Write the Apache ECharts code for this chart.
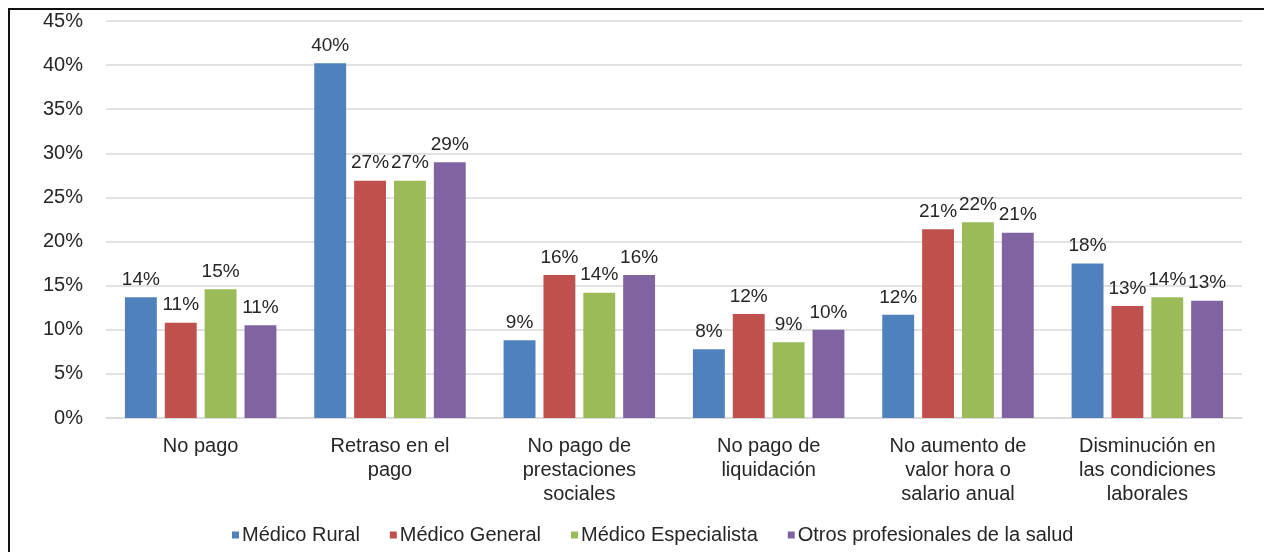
<!DOCTYPE html>
<html>
<head>
<meta charset="utf-8">
<script src="https://cdn.jsdelivr.net/npm/echarts@6/dist/echarts.min.js"></script>
<style>
  html, body { margin: 0; padding: 0; background: #ffffff; }
  #frame {
    position: absolute; left: 8px; top: 8px; width: 1256px; height: 544px;
    box-sizing: border-box; border-top: 2px solid #111; border-left: 2px solid #111;
  }
  #chart { position: absolute; left: 0; top: 0; width: 1264px; height: 552px; }
</style>
</head>
<body>
<div id="frame"></div>
<div id="chart"></div>
<script>
// Motivos de inconformidad salarial, por tipo de profesional (%)
const categories = [
  'No pago',
  'Retraso en el\npago',
  'No pago de\nprestaciones\nsociales',
  'No pago de\nliquidación',
  'No aumento de\nvalor hora o\nsalario anual',
  'Disminución en\nlas condiciones\nlaborales'
];
const seriesNames = ['Médico Rural', 'Médico General', 'Médico Especialista', 'Otros profesionales de la salud'];
const medicoRural        = [13.7, 40.2, 8.8, 7.8, 11.7, 17.5];
const medicoGeneral      = [10.8, 26.9, 16.2, 11.8, 21.4, 12.7];
const medicoEspecialista = [14.6, 26.9, 14.2, 8.6, 22.2, 13.7];
const otrosProfesionales = [10.5, 29.0, 16.2, 10.0, 21.0, 13.3];
const colors = ['#4F81BD', '#C0504D', '#9BBB59', '#8064A2'];
const yTicks = { min: 0, max: 45, interval: 5 };

const chart = echarts.init(document.getElementById('chart'), null, { renderer: 'canvas' });
const font = 'Liberation Sans, Arial, sans-serif';
const textColor = '#262626';
const values = [medicoRural, medicoGeneral, medicoEspecialista, otrosProfesionales];

chart.setOption({
  animation: false,
  backgroundColor: 'transparent',
  grid: { left: 106, right: 22, top: 21, bottom: 134, containLabel: false },
  legend: {
    data: seriesNames,
    top: 520,
    left: 227,
    itemWidth: 7,
    itemHeight: 7,
    itemGap: 30,
    icon: 'rect',
    textStyle: { fontFamily: font, fontSize: 20, color: textColor, padding: [0, 0, 0, -2] }
  },
  xAxis: {
    type: 'category',
    data: categories,
    axisLine: { lineStyle: { color: '#d9d9d9', width: 1.5 } },
    axisTick: { show: false },
    axisLabel: {
      interval: 0, margin: 16, fontFamily: font, fontSize: 20, color: textColor,
      lineHeight: 24, align: 'center'
    }
  },
  yAxis: {
    type: 'value',
    min: yTicks.min, max: yTicks.max, interval: yTicks.interval,
    axisLine: { show: false },
    axisTick: { show: false },
    splitLine: { lineStyle: { color: '#d9d9d9', width: 1.5 } },
    axisLabel: {
      margin: 23, fontFamily: font, fontSize: 20, color: textColor,
      formatter: v => v + '%'
    }
  },
  series: values.map((arr, i) => ({
    name: seriesNames[i],
    type: 'bar',
    data: arr,
    barGap: '25%',
    barCategoryGap: '20%',
    itemStyle: { color: colors[i] },
    label: {
      show: true, position: 'top', distance: 8,
      fontFamily: font, fontSize: 19, color: textColor,
      formatter: p => Math.round(p.value) + '%'
    }
  }))
});
</script>
</body>
</html>
